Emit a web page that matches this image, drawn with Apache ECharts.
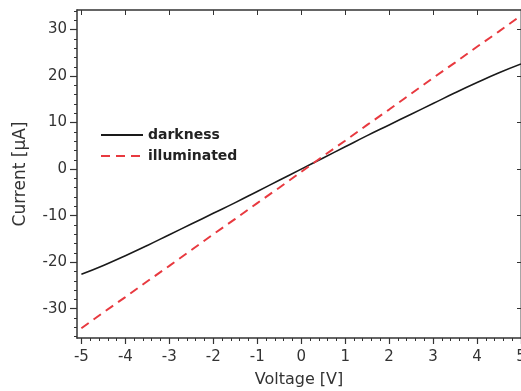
<!DOCTYPE html>
<html>
<head>
<meta charset="utf-8">
<script src="https://cdn.jsdelivr.net/npm/echarts@6/dist/echarts.min.js"></script>
<style>
html, body { margin: 0; padding: 0; background: #fff; }
#main { width: 521px; height: 391px; }
</style>
</head>
<body>
<div id="main"></div>
<script>
// I-V data
var voltage = [-5, -4.5, -4, -3.5, -3, -2.5, -2, -1.5, -1, -0.5, 0, 0.5, 1, 1.5, 2, 2.5, 3, 3.5, 4, 4.5, 5];
var darkness = [-22.6, -20.7, -18.6, -16.4, -14.1, -11.8, -9.5, -7.2, -4.8, -2.4, 0, 2.4, 4.8, 7.2, 9.5, 11.8, 14.1, 16.4, 18.6, 20.7, 22.6];
var illuminated = [-34.2, -30.8, -27.5, -24.1, -20.8, -17.4, -14.0, -10.7, -7.3, -4.0, -0.6, 2.8, 6.1, 9.5, 12.8, 16.2, 19.6, 22.9, 26.3, 29.6, 33.0];

var xTicks = [-5, -4, -3, -2, -1, 0, 1, 2, 3, 4, 5];
var yTicks = [-30, -20, -10, 0, 10, 20, 30];

var xMin = -5.1, xMax = 5;
var yMin = -36.3, yMax = 34.2;

// minor tick positions
var xMinor = [];
for (var i = -25; i <= 25; i++) xMinor.push(i / 5);
var yMinor = [];
for (var j = -18; j <= 17; j++) yMinor.push(j * 2);

function pairs(xs, ys) {
    return xs.map(function (x, k) { return [x, ys[k]]; });
}

var axisColor = '#333';
var textColor = '#333';
var font = 'DejaVu Sans';

var chart = echarts.init(document.getElementById('main'));
chart.setOption({
    backgroundColor: '#fff',
    animation: false,
    grid: { left: 77, right: 0, top: 10, bottom: 53, outerBoundsMode: 'none' },
    legend: {
        orient: 'vertical',
        left: 95,
        top: 123,
        itemWidth: 42,
        itemHeight: 14,
        itemGap: 7,
        itemStyle: { opacity: 0 },
        textStyle: { fontFamily: font, fontWeight: 'bold', fontSize: 14, color: '#222' },
        data: ['darkness', 'illuminated']
    },
    xAxis: [
        {
            // minor ticks
            type: 'value', position: 'bottom', min: xMin, max: xMax,
            axisLine: { show: true, onZero: false, lineStyle: { color: axisColor, width: 1.5 } },
            axisTick: { show: true, customValues: xMinor, length: 3, lineStyle: { color: axisColor } },
            axisLabel: { show: false },
            splitLine: { show: false }
        },
        {
            // major ticks + labels
            type: 'value', position: 'bottom', min: xMin, max: xMax,
            name: 'Voltage [V]', nameLocation: 'middle', nameGap: 34,
            nameTextStyle: { fontFamily: font, fontSize: 16, color: textColor },
            axisLine: { show: false, onZero: false },
            axisTick: { show: true, customValues: xTicks, length: 6, lineStyle: { color: axisColor, width: 1.2 } },
            axisLabel: { customValues: xTicks, margin: 12, showMaxLabel: true, fontFamily: font, fontSize: 15, color: textColor },
            splitLine: { show: false }
        },
        {
            // top frame
            type: 'value', position: 'top', min: xMin, max: xMax,
            axisLine: { show: true, onZero: false, lineStyle: { color: axisColor, width: 1.5 } },
            axisTick: { show: true, inside: true, customValues: xTicks, length: 5, lineStyle: { color: axisColor } },
            axisLabel: { show: false },
            splitLine: { show: false }
        }
    ],
    yAxis: [
        {
            type: 'value', position: 'left', min: yMin, max: yMax,
            axisLine: { show: true, onZero: false, lineStyle: { color: axisColor, width: 1.5 } },
            axisTick: { show: true, customValues: yMinor, length: 3, lineStyle: { color: axisColor } },
            axisLabel: { show: false },
            splitLine: { show: false }
        },
        {
            type: 'value', position: 'left', min: yMin, max: yMax,
            name: 'Current [\u03bcA]', nameLocation: 'middle', nameGap: 48,
            nameTextStyle: { fontFamily: font, fontSize: 17, color: textColor },
            axisLine: { show: false, onZero: false },
            axisTick: { show: true, customValues: yTicks, length: 7, lineStyle: { color: axisColor, width: 1.2 } },
            axisLabel: { customValues: yTicks, margin: 10, fontFamily: font, fontSize: 15, color: textColor },
            splitLine: { show: false }
        },
        {
            // right frame
            type: 'value', position: 'right', min: yMin, max: yMax,
            axisLine: { show: true, onZero: false, lineStyle: { color: '#888', width: 1.5 } },
            axisTick: { show: true, inside: true, customValues: yTicks, length: 4, lineStyle: { color: axisColor } },
            axisLabel: { show: false },
            splitLine: { show: false }
        }
    ],
    series: [
        {
            name: 'darkness', type: 'line', xAxisIndex: 0, yAxisIndex: 0,
            data: pairs(voltage, darkness),
            symbol: 'none', smooth: true,
            itemStyle: { color: '#1a1a1a' },
            lineStyle: { color: '#1a1a1a', width: 1.6 }
        },
        {
            name: 'illuminated', type: 'line', xAxisIndex: 0, yAxisIndex: 0,
            data: pairs(voltage, illuminated),
            symbol: 'none',
            itemStyle: { color: '#e8393f' },
            lineStyle: { color: '#e8393f', width: 2, type: [9, 6] }
        }
    ]
});
</script>
</body>
</html>
